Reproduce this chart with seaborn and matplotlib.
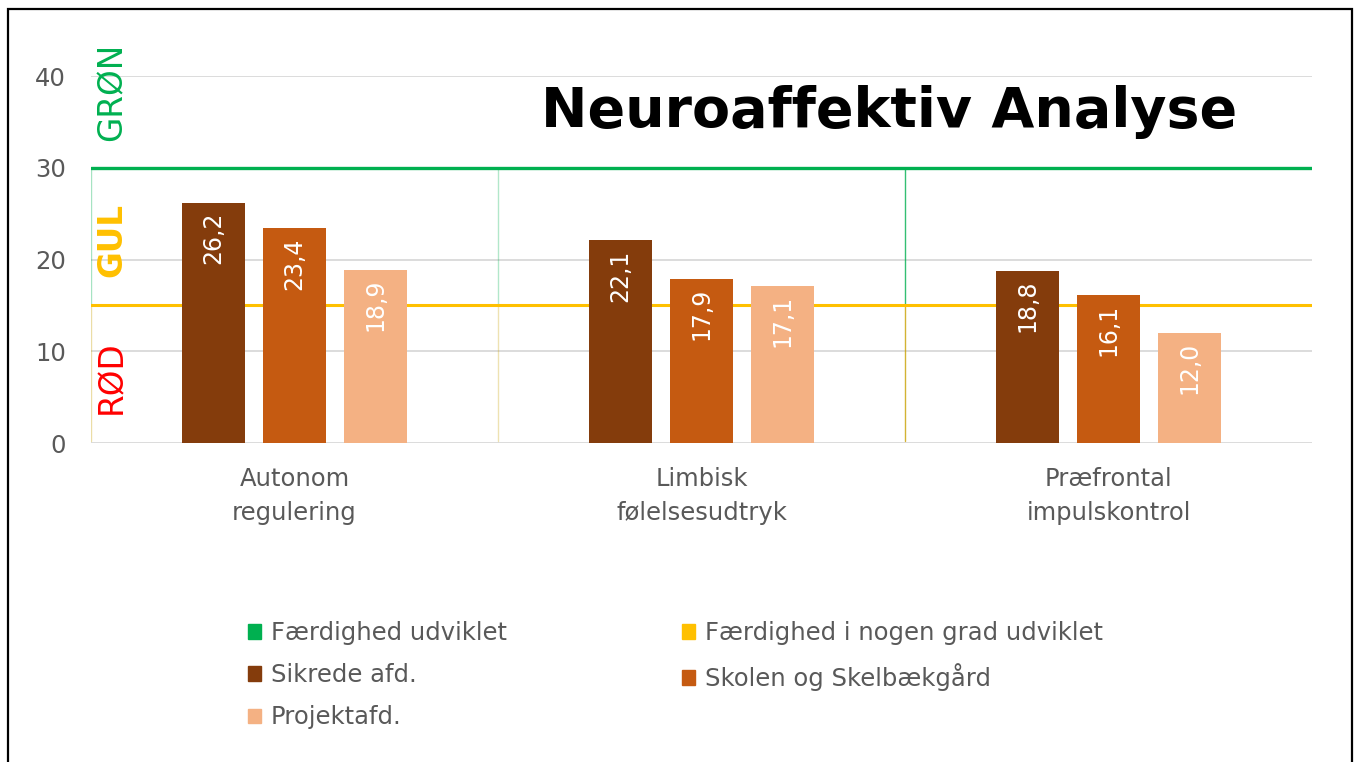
import matplotlib.pyplot as plt
import matplotlib.patches as mpatches
import pandas as pd
import seaborn as sns

# data
categories = ['Autonom\nregulering', 'Limbisk\nfølelsesudtryk', 'Præfrontal\nimpulskontrol']
groups = ['Sikrede afd.', 'Skolen og Skelbækgård', 'Projektafd.']
sikrede = [26.2, 22.1, 18.8]
skolen = [23.4, 17.9, 16.1]
projekt = [18.9, 17.1, 12.0]
green_level = 30
yellow_level = 15
zone_labels = ['GRØN', 'GUL', 'RØD']
zone_label_y = [38.3, 22.1, 7.2]
legend_green = 'Færdighed udviklet'
legend_yellow = 'Færdighed i nogen grad udviklet'

bar_colors = ['#843C0C', '#C55A11', '#F4B183']
green = '#00B050'
yellow = '#FFC000'
red = '#FF0000'
grey_text = '#595959'

df = pd.DataFrame({
    'kategori': categories * 3,
    'gruppe': [g for g in groups for _ in categories],
    'score': sikrede + skolen + projekt,
})

sns.set_style('white')
plt.rcParams['font.family'] = ['DejaVu Sans']

fig = plt.figure(figsize=(13.55, 7.62), dpi=100)
ax = fig.add_axes([91 / 1355, 1 - 443 / 762, (1312 - 91) / 1355, (443 - 76) / 762])

sns.barplot(data=df, x='kategori', y='score', hue='gruppe', palette=bar_colors,
            width=0.6, gap=0.225, ax=ax, legend=False, linewidth=0, saturation=1,
            zorder=2)

ax.set_xlim(-0.5, 2.5)
ax.set_ylim(0, 40)
ax.set_yticks([0, 10, 20, 30, 40])
for y in [0, 10, 20, 40]:
    ax.axhline(y, color='#D9D9D9', lw=1.3, zorder=0)
for s in ax.spines.values():
    s.set_visible(False)

# zone lines (behind the bars)
ax.axhline(green_level, color=green, lw=2.4, zorder=1)
ax.axhline(yellow_level, color=yellow, lw=2.2, zorder=1)
for xv, a in [(-0.5, 0.35), (0.5, 0.3), (1.5, 0.8)]:
    ax.plot([xv, xv], [yellow_level, green_level], color=green, lw=1, alpha=a, zorder=0.5)
    ax.plot([xv, xv], [0.2, yellow_level], color='#C8A000', lw=1, alpha=a, zorder=0.5)

# value labels inside bars
for cont in ax.containers:
    for p in cont:
        v = p.get_height()
        ax.annotate(f'{v:.1f}'.replace('.', ','),
                    (p.get_x() + p.get_width() / 2, v), xytext=(0, -6.5),
                    textcoords='offset points', rotation=90, ha='center', va='top',
                    color='white', fontsize=17, zorder=3)

# zone labels
xpos = -0.5 + 3 * (21 / 1221)
ax.text(xpos, zone_label_y[0], zone_labels[0], rotation=90, color=green,
        fontsize=23.5, ha='center', va='center')
ax.text(xpos, zone_label_y[1], zone_labels[1], rotation=90, color=yellow,
        fontsize=23.5, fontweight='bold', ha='center', va='center')
ax.text(xpos, zone_label_y[2], zone_labels[2], rotation=90, color=red,
        fontsize=23.5, ha='center', va='center')

ax.set_xlabel('')
ax.set_ylabel('')
ax.tick_params(axis='x', labelsize=17.5, labelcolor=grey_text, pad=17, length=0)
ax.tick_params(axis='y', labelsize=17.5, labelcolor=grey_text, pad=18, length=0)
for t in ax.get_xticklabels():
    t.set_linespacing(1.55)

fig.text(889 / 1355, 1 - 112 / 762, 'Neuroaffektiv Analyse', fontsize=40,
         fontweight='bold', color='black', ha='center', va='center')

# legend (column-major order so it reads row by row)
handles = [
    mpatches.Patch(color=green, label=legend_green),
    mpatches.Patch(color=bar_colors[0], label=groups[0]),
    mpatches.Patch(color=bar_colors[2], label=groups[2]),
    mpatches.Patch(color=yellow, label=legend_yellow),
    mpatches.Patch(color=bar_colors[1], label=groups[1]),
]
fig.legend(handles=handles, ncol=2, loc='upper left',
           bbox_to_anchor=(248 / 1355, 1 - 621 / 762), bbox_transform=fig.transFigure,
           frameon=False, fontsize=17.5, labelcolor=grey_text, borderpad=0,
           borderaxespad=0, handlelength=0.55, handleheight=0.55, handletextpad=0.4,
           labelspacing=0.75, columnspacing=7.2)

# outer frame
fig.patches.append(mpatches.Rectangle((8 / 1355, -0.05), (1352 - 8) / 1355, 1.05 - 9 / 762,
                                      transform=fig.transFigure, fill=False,
                                      edgecolor='black', lw=1.6))

fig.savefig('out.png', dpi=100)
